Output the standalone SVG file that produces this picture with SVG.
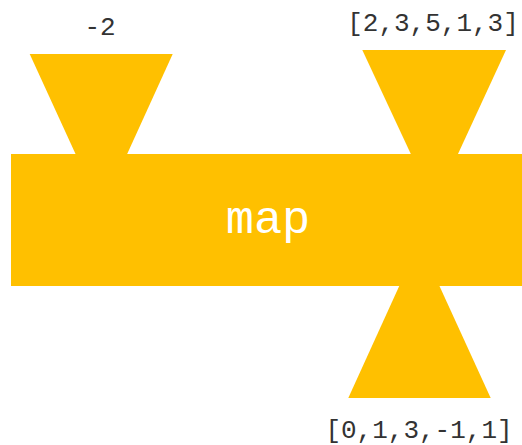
<svg xmlns="http://www.w3.org/2000/svg" width="522" height="445" viewBox="0 0 522 445">
<style>
.shape{fill:#FFC000;stroke:none}
.lbl{font-family:"Liberation Mono","Courier New",monospace;font-size:26px;fill:#333333;text-anchor:middle}
.main{font-family:"Liberation Mono","Courier New",monospace;font-size:47px;fill:#FFFFFF;text-anchor:middle}
</style>
<rect width="522" height="445" fill="#FFFFFF"/>
<g id="input-left">
<polygon class="shape" points="29.7,54 172.7,54 126.7,155 76,155"/>
<text class="lbl" x="100" y="35">-2</text>
</g>
<g id="input-right">
<polygon class="shape" points="362.3,50 506,50 457.5,155 411.3,155"/>
<text class="lbl" x="433" y="31">[2,3,5,1,3]</text>
</g>
<g id="output">
<polygon class="shape" points="399.7,285 439,285 490.7,398 348.3,398"/>
<text class="lbl" x="419" y="438">[0,1,3,-1,1]</text>
</g>
<g id="map">
<rect class="shape" x="11" y="154" width="511" height="132"/>
<text class="main" x="268" y="233">map</text>
</g>
<g id="connectors"/>
</svg>
